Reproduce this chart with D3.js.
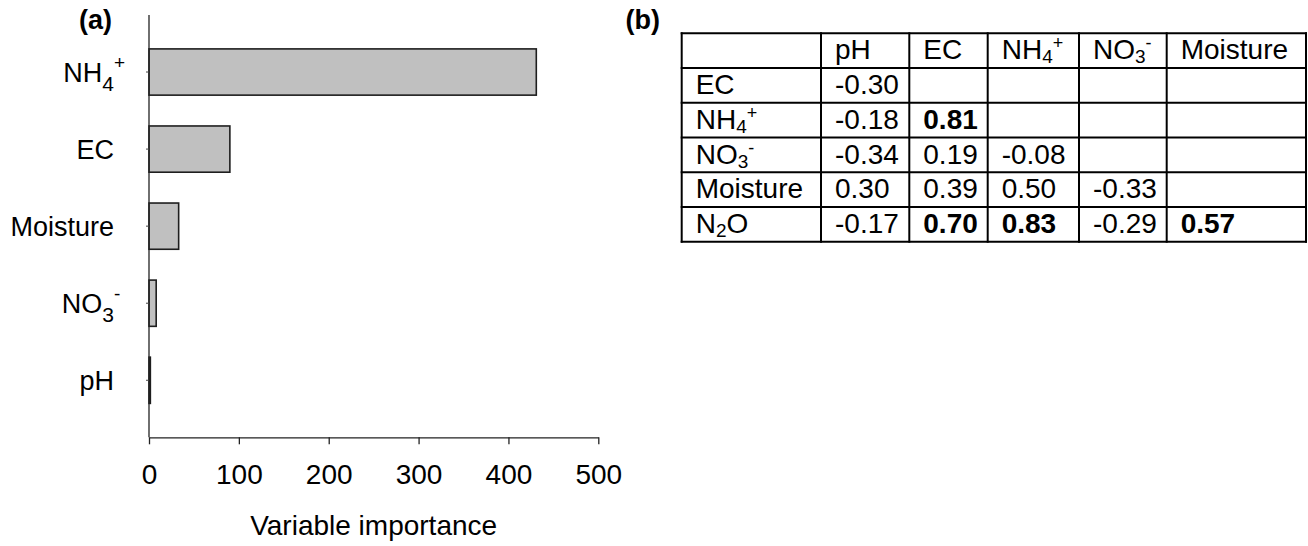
<!DOCTYPE html>
<html>
<head>
<meta charset="utf-8">
<script src="https://cdn.jsdelivr.net/npm/d3@7"></script>
<style>
  html, body { margin: 0; padding: 0; background: #fff; }
  svg { display: block; font-family: "Liberation Sans", Arial, sans-serif; }
</style>
</head>
<body>
<svg id="fig" width="1308" height="546"></svg>
<script>
// ---- Panel (a): variable importance ----
const importanceVars = ["NH4+", "EC", "Moisture", "NO3-", "pH"];
const importanceValues = [431, 90, 33, 8, 1.5];
const importanceTicks = [0, 100, 200, 300, 400, 500];
const importanceTitle = "Variable importance";

// ---- Panel (b): Pearson correlations, lower triangle ----
const corrColumns = ["pH", "EC", "NH4+", "NO3-", "Moisture"];
const corrRows = ["EC", "NH4+", "NO3-", "Moisture", "N2O"];
const corrValues = [
  [-0.30],
  [-0.18, 0.81],
  [-0.34, 0.19, -0.08],
  [0.30, 0.39, 0.50, -0.33],
  [-0.17, 0.70, 0.83, -0.29, 0.57]
];
const corrBold = [
  [false],
  [false, true],
  [false, false, false],
  [false, false, false, false],
  [false, true, true, false, true]
];

const svg = d3.select("#fig");

// Split a chemical label into runs: digits after letters are subscripts,
// a trailing charge sign is a superscript.
function chemParts(label) {
  const parts = [];
  for (let i = 0; i < label.length; i++) {
    const ch = label[i];
    let kind = "n";
    if (/[0-9]/.test(ch) && i > 0 && /[A-Za-z]/.test(label[i - 1])) kind = "sub";
    else if ((ch === "+" || ch === "-") && i === label.length - 1 && i > 0) kind = "sup";
    const last = parts[parts.length - 1];
    if (last && last.kind === kind) last.t += ch;
    else parts.push({ t: ch, kind });
  }
  return parts;
}

// Write the runs into a <text> element with the given sub/sup style.
function writeChem(textSel, label, style) {
  let offset = 0;
  chemParts(label).forEach(p => {
    let target = 0, size = null;
    if (p.kind === "sub") { target = style.subShift; size = style.subSize; }
    if (p.kind === "sup") { target = style.supShift; size = style.supSize; }
    const ts = textSel.append("tspan")
      .attr("class", "part-" + p.kind)
      .attr("dy", target - offset)
      .text(p.t);
    if (size) ts.style("font-size", size + "px");
    offset = target;
  });
}

// ================= Panel (a) =================
const xA = d3.scaleLinear().domain([0, 500]).range([149, 598.3]);
const yA = d3.scalePoint().domain(importanceVars).range([15, 437.3]).padding(0.74);
const barH = yA.step() * 0.6;

const gA = svg.append("g");

gA.append("text")
  .attr("x", 112).attr("y", 29)
  .attr("text-anchor", "end")
  .style("font-size", "27px").style("font-weight", "bold")
  .text("(a)");

// bars
gA.selectAll("rect.bar")
  .data(importanceVars.map((v, i) => ({ v, val: importanceValues[i] })))
  .join("rect")
  .attr("class", "bar")
  .attr("x", xA(0))
  .attr("y", d => yA(d.v) - barH / 2)
  .attr("width", d => xA(d.val) - xA(0))
  .attr("height", barH)
  .attr("fill", "#c0c0c0")
  .attr("stroke", "#1e1e1e")
  .attr("stroke-width", 1.6);

// category axis
const yAxis = gA.append("g").attr("transform", `translate(${xA(0)},0)`);
yAxis.append("line")
  .attr("x1", 0).attr("x2", 0)
  .attr("y1", yA.range()[0]).attr("y2", yA.range()[1])
  .attr("stroke", "#222").attr("stroke-width", 1.3);
yAxis.selectAll("line.tick")
  .data(importanceVars)
  .join("line")
  .attr("class", "tick")
  .attr("x1", -3).attr("x2", 0)
  .attr("y1", d => yA(d)).attr("y2", d => yA(d))
  .attr("stroke", "#444").attr("stroke-width", 1);

// category labels, main text right-aligned, charge sign overhanging
const labelStyleA = { subShift: 9, subSize: 21, supShift: -13, supSize: 19 };
importanceVars.forEach(v => {
  const t = gA.append("text")
    .attr("x", 0).attr("y", yA(v) + 10)
    .style("font-size", "27px");
  writeChem(t, v, labelStyleA);
  const total = t.node().getComputedTextLength();
  let supW = 0;
  t.selectAll("tspan.part-sup").each(function () { supW += this.getComputedTextLength(); });
  t.attr("x", 114 - (total - supW));
});

// value axis
const xAxis = d3.axisBottom(xA)
  .tickValues(importanceTicks)
  .tickSize(7).tickSizeOuter(0).tickPadding(20)
  .tickFormat(d3.format("d"));
const gx = gA.append("g").attr("transform", "translate(0,437.3)").call(xAxis);
gx.select(".domain").attr("stroke", "#222").attr("stroke-width", 1.3);
gx.selectAll(".tick line").attr("stroke", "#222").attr("stroke-width", 1.3);
gx.selectAll(".tick text")
  .attr("fill", "#000")
  .style("font-size", "28px")
  .style("font-family", "'Liberation Sans', Arial, sans-serif");

gA.append("text")
  .attr("x", (xA.range()[0] + xA.range()[1]) / 2)
  .attr("y", 535)
  .attr("text-anchor", "middle")
  .style("font-size", "28px")
  .text(importanceTitle);

// ================= Panel (b) =================
const gB = svg.append("g");

gB.append("text")
  .attr("x", 660).attr("y", 29)
  .attr("text-anchor", "end")
  .style("font-size", "27px").style("font-weight", "bold")
  .text("(b)");

const tableLeft = 681.7;
const colWidths = [139.3, 88.3, 78.4, 91.3, 87.7, 139.3];
const colEdges = [tableLeft, ...d3.cumsum(colWidths).map(w => tableLeft + w)];
const rowKeys = ["header", ...corrRows];
const rowBand = d3.scaleBand().domain(rowKeys).range([33.3, 241.7]);
const rowEdges = rowKeys.map(k => rowBand(k)).concat([rowBand.range()[1]]);
const cellPad = 14;
const baseOff = 26;
const labelStyleB = { subShift: 4, subSize: 19, supShift: -10, supSize: 18 };

// header row
corrColumns.forEach((c, j) => {
  const t = gB.append("text")
    .attr("x", colEdges[j + 1] + cellPad)
    .attr("y", rowBand("header") + baseOff)
    .style("font-size", "28px");
  writeChem(t, c, labelStyleB);
});

// body rows
corrRows.forEach((r, i) => {
  const t = gB.append("text")
    .attr("x", colEdges[0] + cellPad)
    .attr("y", rowBand(r) + baseOff)
    .style("font-size", "28px");
  writeChem(t, r, labelStyleB);
  corrValues[i].forEach((v, j) => {
    gB.append("text")
      .attr("x", colEdges[j + 1] + cellPad)
      .attr("y", rowBand(r) + baseOff)
      .style("font-size", "28px")
      .style("font-weight", corrBold[i][j] ? "bold" : "normal")
      .text(d3.format(".2f")(v).replace("−", "-"));
  });
});

// grid lines
gB.selectAll("line.h")
  .data(rowEdges)
  .join("line")
  .attr("class", "h")
  .attr("x1", colEdges[0] - 1).attr("x2", colEdges[colEdges.length - 1] + 1)
  .attr("y1", d => d).attr("y2", d => d)
  .attr("stroke", "#000").attr("stroke-width", 2);
gB.selectAll("line.v")
  .data(colEdges)
  .join("line")
  .attr("class", "v")
  .attr("x1", d => d).attr("x2", d => d)
  .attr("y1", rowEdges[0] - 1).attr("y2", rowEdges[rowEdges.length - 1] + 1)
  .attr("stroke", "#000").attr("stroke-width", 2);
</script>
</body>
</html>
